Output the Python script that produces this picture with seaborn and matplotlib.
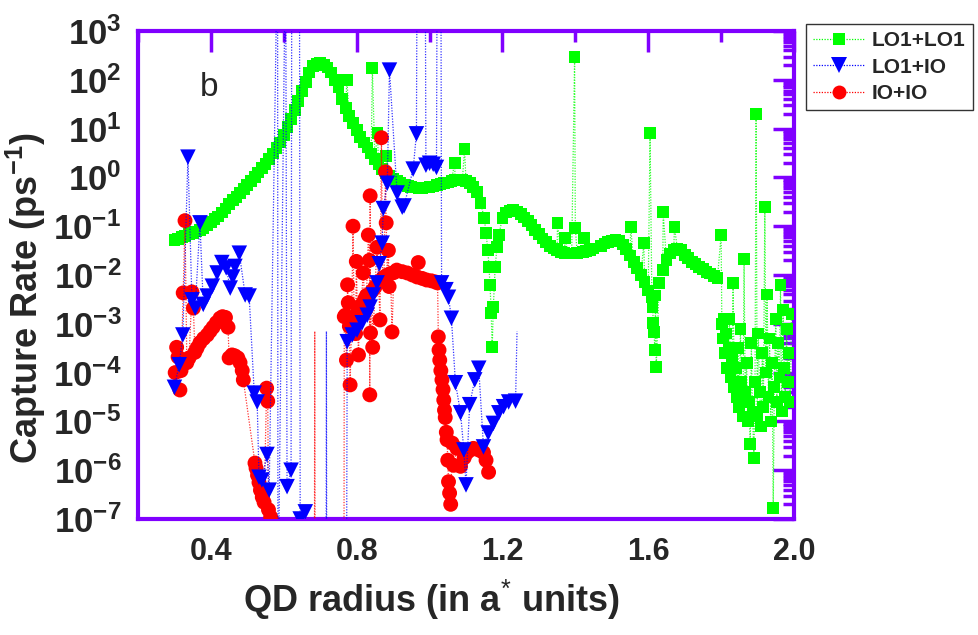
import matplotlib
matplotlib.use("Agg")
import numpy as np
import pandas as pd
import seaborn as sns
import matplotlib.pyplot as plt
from matplotlib.ticker import FixedLocator, LogLocator, FuncFormatter, NullFormatter
from matplotlib.lines import Line2D

# ---------------- data ----------------
# LO1+LO1 (green squares)
lo1lo1_x = [0.30, 0.31, 0.32, 0.33, 0.34, 0.35, 0.36, 0.37, 0.38, 0.39,
            0.40, 0.41, 0.42, 0.43, 0.44, 0.45, 0.46, 0.47, 0.48, 0.49,
            0.50, 0.51, 0.52, 0.53, 0.54, 0.55, 0.56, 0.57, 0.58, 0.59,
            0.60, 0.61, 0.62, 0.63, 0.64, 0.65, 0.66, 0.67, 0.68, 0.69,
            0.70, 0.71, 0.72, 0.73, 0.74, 0.75, 0.76, 0.77, 0.773, 0.78,
            0.79, 0.80, 0.81, 0.82, 0.83, 0.84, 0.843, 0.85, 0.857, 0.86,
            0.87, 0.88, 0.881, 0.89, 0.90, 0.91, 0.92, 0.93, 0.94, 0.95,
            0.96, 0.97, 0.98, 0.99, 1.00, 1.01, 1.02, 1.03, 1.04, 1.05,
            1.06, 1.069, 1.07, 1.08, 1.09, 1.096, 1.10, 1.11, 1.12, 1.13,
            1.14, 1.15, 1.155, 1.16, 1.163, 1.166, 1.169, 1.172, 1.175, 1.18,
            1.185, 1.19, 1.20, 1.21, 1.22, 1.23, 1.24, 1.25, 1.26, 1.27,
            1.28, 1.29, 1.30, 1.31, 1.32, 1.33, 1.34, 1.35, 1.351, 1.36,
            1.37, 1.372, 1.38, 1.39, 1.398, 1.40, 1.405, 1.41, 1.42, 1.423,
            1.43, 1.44, 1.45, 1.47, 1.48, 1.49, 1.50, 1.51, 1.52, 1.53,
            1.54, 1.55, 1.552, 1.56, 1.57, 1.58, 1.588, 1.59, 1.60, 1.605,
            1.61, 1.612, 1.614, 1.616, 1.618, 1.62, 1.622, 1.63, 1.64, 1.641,
            1.65, 1.66, 1.67, 1.672, 1.68, 1.69, 1.70, 1.71, 1.72, 1.73,
            1.74, 1.75, 1.76, 1.77, 1.78, 1.79,
            1.800, 1.802, 1.805, 1.808, 1.810, 1.813, 1.816, 1.820, 1.823, 1.826,
            1.830, 1.833, 1.836, 1.840, 1.843, 1.846, 1.850, 1.853, 1.856, 1.860,
            1.863, 1.866, 1.870, 1.873, 1.876, 1.880, 1.883, 1.886, 1.890, 1.893,
            1.896, 1.899, 1.902, 1.906, 1.910, 1.913, 1.916, 1.920, 1.923, 1.926,
            1.930, 1.933, 1.936, 1.940, 1.943, 1.946, 1.950, 1.953, 1.956, 1.960,
            1.963, 1.966, 1.970, 1.973, 1.976, 1.980, 1.983, 1.986, 1.990, 1.993]
lo1lo1_y = [5.2e-2, 5.5e-2, 5.9e-2, 6.3e-2, 6.8e-2, 7.2e-2, 7.8e-2, 8.3e-2, 9.3e-2, 0.105,
            0.12, 0.138, 0.158, 0.19, 0.23, 0.28, 0.34, 0.40, 0.48, 0.58,
            0.71, 0.83, 1.02, 1.26, 1.55, 1.9, 2.4, 3.1, 4.0, 5.2,
            7.4, 10.7, 15.8, 24, 37, 58, 91, 141, 190, 214,
            219, 204, 178, 141, 100, 71, 40, 26, 100, 18,
            12.9, 9.3, 6.8, 5.2, 4.1, 3.1, 174, 2.4, 8.1, 1.9,
            1.48, 1.2, 2.75, 1.05, 0.93, 0.83, 0.76, 0.71, 0.66, 0.63,
            0.62, 0.60, 0.60, 0.62, 0.63, 0.65, 0.69, 0.72, 0.76, 0.79,
            0.85, 2.0, 0.89, 0.89, 0.87, 3.8, 0.83, 0.78, 0.63, 0.50,
            0.30, 0.148, 7.2e-2, 3.2e-2, 1.45e-2, 6.3e-3, 1.66e-3, 3.3e-4, 2.2e-3, 1.45e-2,
            3.7e-2, 6.6e-2, 0.148, 0.19, 0.21, 0.22, 0.20, 0.18, 0.15, 0.126,
            0.105, 8.3e-2, 6.8e-2, 5.6e-2, 4.7e-2, 4.0e-2, 3.5e-2, 3.2e-2, 0.117, 2.95e-2,
            2.8e-2, 5.8e-2, 2.75e-2, 2.75e-2, 295, 9.1e-2, 2.8e-2, 2.9e-2, 2.95e-2, 5.8e-2,
            3.1e-2, 3.2e-2, 3.5e-2, 4.0e-2, 4.4e-2, 4.7e-2, 5.0e-2, 5.2e-2, 5.0e-2, 4.2e-2,
            3.4e-2, 2.5e-2, 9.5e-2, 1.86e-2, 1.38e-2, 1.0e-2, 4.6e-2, 7.1e-3, 4.8e-3, 8.1,
            3.5e-3, 2.2e-3, 1.05e-3, 6.9e-4, 2.9e-4, 3.8e-3, 1.3e-4, 6.9e-3, 1.26e-2, 0.195,
            2.0e-2, 2.75e-2, 3.3e-2, 9.5e-2, 3.5e-2, 3.2e-2, 2.6e-2, 2.2e-2, 1.86e-2, 1.66e-2,
            1.48e-2, 1.32e-2, 1.17e-2, 1.07e-2, 9.5e-3, 8.7e-3,
            6.6e-2, 1.0e-3, 5.0e-4, 1.26e-3, 2.5e-4, 6.3e-4, 1.26e-4, 3.2e-4, 1.26e-3, 7.9e-5,
            2.0e-4, 6.9e-3, 5.0e-5, 1.26e-4, 3.2e-5, 3.2e-4, 2.0e-5, 7.9e-4, 6.3e-5, 1.26e-5,
            2.1e-2, 4.0e-5, 1.6e-4, 1.0e-5, 2.5e-5, 3.5e-6, 4.0e-4, 1.6e-5, 1.8e-6, 6.3e-5,
            20, 1.26e-5, 6.3e-4, 4.0e-5, 7.9e-6, 2.5e-4, 2.0e-5, 0.25, 1.0e-4, 4.0e-3,
            3.2e-5, 5.0e-4, 1.0e-5, 1.6e-4, 1.7e-7, 5.0e-5, 1.26e-3, 2.5e-5, 4.0e-4, 7.9e-5,
            6.3e-3, 1.6e-5, 1.9e-3, 1.26e-4, 3.2e-5, 7.9e-4, 6.3e-5, 2.5e-4, 2.5e-5, 1.6e-3]

# LO1+IO (blue down-triangles); 1e5 / 1e-9 are points beyond the axis range
lo1io_x = [0.300, 0.313, 0.323, 0.337, 0.348, 0.357, 0.370, 0.379, 0.390, 0.404,
           0.417, 0.430, 0.442, 0.453, 0.460, 0.466, 0.478, 0.494, 0.505, 0.519,
           0.527, 0.532, 0.540, 0.554, 0.560, 0.583, 0.584, 0.605, 0.609, 0.620,
           0.622, 0.643, 0.645, 0.659, 0.660, 0.716, 0.718, 0.772,
           0.774, 0.788, 0.801, 0.815, 0.829, 0.837, 0.846, 0.856, 0.862, 0.870,
           0.873, 0.884, 0.890, 0.911, 0.925, 0.930, 0.955, 0.964, 0.966, 0.988,
           0.990, 1.000, 1.010, 1.019, 1.021, 1.031, 1.033, 1.045, 1.052, 1.060,
           1.071, 1.085, 1.094, 1.100, 1.110, 1.124, 1.135, 1.148, 1.161, 1.175,
           1.190, 1.203, 1.217, 1.236]
lo1io_y = [5.0e-5, 1.45e-4, 5.9e-4, 2.6, 3.1e-3, 2.1e-3, 0.117, 2.5e-3, 3.7e-3, 5.9e-3,
           1.1e-2, 1.8e-2, 1.4e-2, 5.4e-3, 9.1e-3, 1.5e-2, 2.8e-2, 3.9e-3, 3.7e-3, 3.8e-5,
           2.5e-5, 7.2e-7, 6.3e-7, 2.1e-6, 3.9e-7, 1e5, 1e-9, 1e5, 4.6e-7, 1.0e-6,
           1e5, 1e5, 1.0e-7, 1.4e-7, 1e-9, 1e-9, 1e-9, 1e-9,
           4.3e-4, 5.9e-4, 7.4e-4, 1.05e-3, 1.5e-3, 2.2e-3, 3.9e-3, 6.9e-3, 1.7e-2, 4.5e-2,
           0.23, 0.76, 158, 0.48, 0.245, 0.26, 1.48, 7.8, 1e5, 1e5,
           1.78, 1.95, 1.86, 1.6, 1e5, 1e5, 6.9e-3, 5.0e-3, 3.5e-3, 1.3e-3,
           6.2e-5, 1.5e-5, 2.6e-6, 5.0e-7, 2.2e-5, 7.1e-5, 1.23e-4, 3.0e-6, 5.8e-6, 9.1e-6,
           1.5e-5, 2.0e-5, 2.5e-5, 2.6e-5]
# points joined by the dotted line but drawn without a symbol
lo1io_bare_x = [0.717, 1.240]
lo1io_bare_y = [7e-4, 7e-4]

# IO+IO (red circles)
ioio_x = [0.302, 0.306, 0.310, 0.315, 0.318, 0.324, 0.329, 0.334, 0.340, 0.348,
          0.352, 0.356, 0.362, 0.370, 0.380, 0.390, 0.398, 0.406, 0.415, 0.425,
          0.432, 0.440, 0.447, 0.450, 0.458, 0.466, 0.474, 0.480, 0.486, 0.489,
          0.521, 0.524, 0.528, 0.532, 0.536, 0.541, 0.546, 0.553, 0.556, 0.558,
          0.564, 0.568, 0.570, 0.684, 0.686, 0.765,
          0.766, 0.769, 0.772, 0.775, 0.777, 0.780, 0.782, 0.786, 0.790, 0.793,
          0.797, 0.799, 0.802, 0.805, 0.808, 0.812, 0.818, 0.822, 0.827, 0.832,
          0.835, 0.836, 0.837, 0.838, 0.842, 0.844, 0.850, 0.856, 0.860, 0.864,
          0.868, 0.871, 0.875, 0.879, 0.881, 0.884, 0.887, 0.889, 0.893, 0.897,
          0.902, 0.910, 0.925, 0.939, 0.953, 0.966, 0.969, 0.980, 0.992, 1.005,
          1.016, 1.022, 1.024, 1.026, 1.028, 1.031, 1.034, 1.037, 1.039, 1.041,
          1.043, 1.046, 1.048, 1.050, 1.052, 1.055, 1.058, 1.062, 1.066, 1.075,
          1.085, 1.095, 1.103, 1.112, 1.120, 1.130, 1.140, 1.148, 1.155, 1.162]
ioio_y = [1.0e-4, 3.3e-4, 2.1e-4, 4.4e-5, 1.1e-4, 4.3e-3, 0.13, 1.6e-4, 2.0e-4, 4.5e-3,
          2.1e-3, 2.6e-4, 3.2e-4, 4.1e-4, 5.0e-4, 5.9e-4, 7.1e-4, 8.5e-4, 1.05e-3, 1.3e-3,
          1.4e-3, 1.35e-3, 8.5e-4, 2.0e-4, 2.3e-4, 2.2e-4, 2.0e-4, 1.6e-4, 1.1e-4, 7.1e-5,
          1.4e-6, 1.1e-6, 7.9e-7, 5.6e-7, 3.9e-7, 2.8e-7, 2.2e-7, 4.8e-5, 2.6e-5, 1.55e-7,
          1.1e-7, 8.9e-8, 1e-9, 1e-9, 1e-9, 1e-9,
          1.4e-3, 1.5e-3, 1.8e-4, 6.3e-3, 2.7e-3, 8.9e-4, 5.6e-5, 1.0e-3, 0.1, 1.26e-3,
          6.3e-4, 1.9e-2, 1.66e-3, 2.3e-4, 2.2e-3, 2.4e-3, 1.1e-2, 3.2e-3, 3.8e-3, 6.6e-2,
          2.0e-2, 3.5e-5, 0.42, 6.5e-4, 4.7e-3, 3.3e-4, 5.6e-3, 3.7e-2, 7.1e-3, 1.2e-3,
          6.5, 8.5e-3, 9.1e-3, 1.3, 0.117, 1.0e-2, 3.2e-2, 5.8e-3, 1.07e-2, 6.8e-4,
          1.12e-2, 1.26e-2, 1.17e-2, 1.1e-2, 1.0e-2, 9.1e-3, 1.8e-2, 8.5e-3, 7.9e-3, 7.6e-3,
          7.2e-3, 6.9e-3, 5.4e-4, 2.9e-4, 1.8e-4, 1.1e-4, 7.1e-5, 4.5e-5, 2.75e-5, 1.7e-5,
          1.2e-5, 6.0e-6, 4.2e-6, 1.6e-6, 5.8e-7, 3.4e-7, 2.0e-7, 3.6e-6, 1.26e-6, 2.8e-6,
          1.2e-6, 1.8e-6, 2.3e-6, 2.6e-6, 2.8e-6, 2.7e-6, 2.5e-6, 2.3e-6, 1.6e-6, 9.1e-7]
ioio_bare_x = [0.685]
ioio_bare_y = [7e-4]

series_names = ["LO1+LO1", "LO1+IO", "IO+IO"]
x_ticks = [0.4, 0.8, 1.2, 1.6, 2.0]
x_minor = [0.2, 0.6, 1.0, 1.4, 1.8]

# ---------------- style ----------------
sns.set_theme(style="white")
plt.rcParams["font.family"] = ["Liberation Sans", "DejaVu Sans"]
plt.rcParams["mathtext.fontset"] = "custom"
plt.rcParams["mathtext.rm"] = "Liberation Sans"
plt.rcParams["mathtext.bf"] = "Liberation Sans:bold"
plt.rcParams["mathtext.it"] = "Liberation Sans:italic"

PURPLE = "#8000ff"
GREEN, BLUE, RED = "#00ff00", "#0000ff", "#ff0000"
DOTS = (0, (1, 1.2))

fig = plt.figure(figsize=(9.79, 6.35), dpi=100)
ax = fig.add_axes([138 / 979, 1 - 519 / 635, (794 - 138) / 979, (519 - 31) / 635])
ax.set_yscale("log")


def line_frame(xs, ys, bx=(), by=()):
    df = pd.DataFrame({"x": list(xs) + list(bx), "y": list(ys) + list(by)})
    return df.sort_values("x", kind="stable").reset_index(drop=True)


specs = [
    (lo1lo1_x, lo1lo1_y, (), (), GREEN, "s", 72, 2),
    (ioio_x, ioio_y, ioio_bare_x, ioio_bare_y, RED, "o", 115, 4),
    (lo1io_x, lo1io_y, lo1io_bare_x, lo1io_bare_y, BLUE, "v", 125, 6),
]
for xs, ys, bx, by, col, mk, size, z in specs:
    ldf = line_frame(xs, ys, bx, by)
    sns.lineplot(data=ldf, x="x", y="y", ax=ax, sort=False, estimator=None,
                 color=col, linestyle=DOTS, linewidth=0.9, alpha=0.8,
                 zorder=z, legend=False)
    pdf = pd.DataFrame({"x": xs, "y": ys})
    sns.scatterplot(data=pdf, x="x", y="y", ax=ax, marker=mk, s=size, color=col,
                    edgecolor="none", linewidth=0, zorder=z + 1, legend=False)

ax.set_xlim(0.2, 2.0)
ax.set_ylim(1e-7, 1e3)

ax.xaxis.set_major_locator(FixedLocator(x_ticks))
ax.xaxis.set_minor_locator(FixedLocator(x_minor))
ax.xaxis.set_major_formatter(FuncFormatter(lambda v, p: f"{v:.1f}"))
ax.yaxis.set_major_locator(LogLocator(base=10, numticks=20))
ax.yaxis.set_minor_locator(LogLocator(base=10, subs=np.arange(2, 10), numticks=20))
ax.yaxis.set_minor_formatter(NullFormatter())
ax.yaxis.set_major_formatter(
    FuncFormatter(lambda v, p: r"$\mathbf{10^{%d}}$" % int(round(np.log10(v)))))

ax.tick_params(which="both", direction="in", top=True, right=True,
               color=PURPLE, width=2.5)
ax.tick_params(which="major", length=15)
ax.tick_params(which="minor", length=8)
ax.tick_params(axis="y", which="major", labelsize=25, pad=12)
ax.tick_params(axis="x", which="major", labelsize=22, pad=13)
for lab in ax.get_xticklabels():
    lab.set_fontweight("bold")

for sp in ax.spines.values():
    sp.set_color(PURPLE)
    sp.set_linewidth(3)

ax.set_xlabel(r"QD radius (in a$^{*}$ units)", fontsize=26, fontweight="bold")
ax.xaxis.set_label_coords((431 - 138) / 656, -(578 - 519) / 488)
ax.set_ylabel(r"Capture Rate (ps$^{\mathbf{-1}}$)", fontsize=26, fontweight="bold")
ax.yaxis.set_label_coords(-(138 - 48) / 656, (519 - 298) / 488)

ax.text(0.095, 0.885, "b", transform=ax.transAxes, fontsize=24, ha="left", va="center")

handles = [
    Line2D([], [], color=GREEN, linestyle=DOTS, linewidth=0.9, marker="s",
           markersize=9, markeredgewidth=0),
    Line2D([], [], color=BLUE, linestyle=DOTS, linewidth=0.9, marker="v",
           markersize=11, markeredgewidth=0),
    Line2D([], [], color=RED, linestyle=DOTS, linewidth=0.9, marker="o",
           markersize=10, markeredgewidth=0),
]
leg = fig.legend(handles, [series_names[0], series_names[1], series_names[2]],
                 loc="upper left", bbox_to_anchor=(806 / 979, 1 - 24 / 635),
                 borderaxespad=0.0,
                 prop={"weight": "bold", "size": 15}, frameon=True, fancybox=False,
                 edgecolor="black", handlelength=2.5, handletextpad=0.3,
                 labelspacing=0.35, borderpad=0.35, numpoints=1)
leg.get_frame().set_linewidth(1.0)

fig.savefig("out.png", dpi=100, facecolor="white")
